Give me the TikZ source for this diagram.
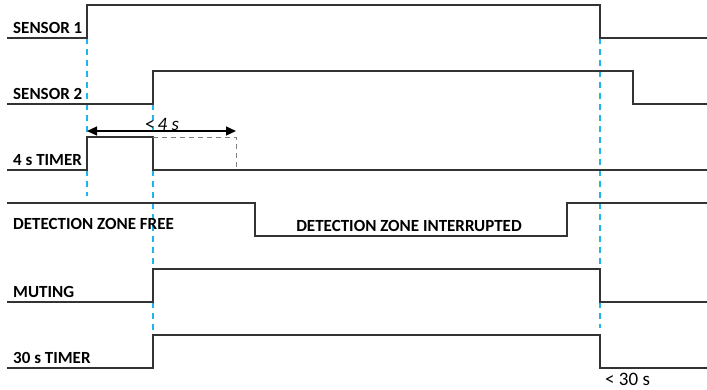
\documentclass[tikz,border=0pt]{standalone}
\usepackage{fontspec}
\setmainfont{Carlito}
\usetikzlibrary{arrows.meta}
\definecolor{sig}{HTML}{333333}
\definecolor{mark}{HTML}{1FB4EC}
\tikzset{
  signal/.style={draw=sig, line width=1.3pt},
  guide/.style={draw=mark, line width=1.1pt, dash pattern=on 6pt off 5pt},
  ghost/.style={draw=gray, line width=1pt, dash pattern=on 5pt off 4pt},
  lbl/.style={anchor=base west, inner sep=0pt, font=\bfseries\fontsize{17}{20}\selectfont, text=black},
  note/.style={inner sep=0pt, font=\fontsize{19}{22}\selectfont, text=black},
}
\begin{document}
\begin{tikzpicture}[x=1pt,y=-1pt]
\useasboundingbox (0,0) rectangle (707,389);
% guides
\coordinate (g1a) at (87,38); \coordinate (g1b) at (87,196);
\coordinate (g2a) at (153,104); \coordinate (g2b) at (153,335);
\coordinate (g3a) at (600,38); \coordinate (g3b) at (600,328);
\draw[guide] (g1a) -- (g1b);
\draw[guide] (g2a) -- (g2b);
\draw[guide] (g3a) -- (g3b);
% sensor 1
\draw[signal] (7,38) -- (87,38) -- (87,5) -- (600,5) -- (600,38) -- (707,38);
\node[lbl] (s1) at (13,33) {SENSOR 1};
% sensor 2
\draw[signal] (7,104) -- (153,104) -- (153,71) -- (633,71) -- (633,104) -- (707,104);
\node[lbl] (s2) at (13,99) {SENSOR 2};
% 4 s timer
\draw[signal] (7,170) -- (87,170) -- (87,137) -- (153,137) -- (153,170) -- (707,170);
\draw[ghost] (153,137) -- (236,137) -- (236,170);
\node[lbl] (t4) at (13,165) {4 s TIMER};
\coordinate (a1) at (87,131); \coordinate (a2) at (236,131);
\draw[line width=1.3pt, {Triangle[length=10pt,width=9pt]}-{Triangle[length=10pt,width=9pt]}] (a1) -- (a2);
\node[note, anchor=base] (lt4) at (162,130) {<\,\textit{4 s}};
% detection zone
\draw[signal] (7,203) -- (255,203) -- (255,236) -- (567,236) -- (567,203) -- (707,203);
\node[lbl] (dz) at (13,229) {DETECTION ZONE FREE};
\node[lbl, anchor=base] (dzi) at (409,231) {DETECTION ZONE INTERRUPTED};
% muting
\draw[signal] (7,302) -- (153,302) -- (153,269) -- (600,269) -- (600,302) -- (707,302);
\node[lbl] (mu) at (13,297) {MUTING};
% 30 s timer
\draw[signal] (7,368) -- (153,368) -- (153,335) -- (600,335) -- (600,368) -- (707,368);
\node[lbl] (t30) at (13,363) {30 s TIMER};
\node[note, anchor=base west] (l30) at (605,385) {< 30 s};
\end{tikzpicture}
\end{document}
